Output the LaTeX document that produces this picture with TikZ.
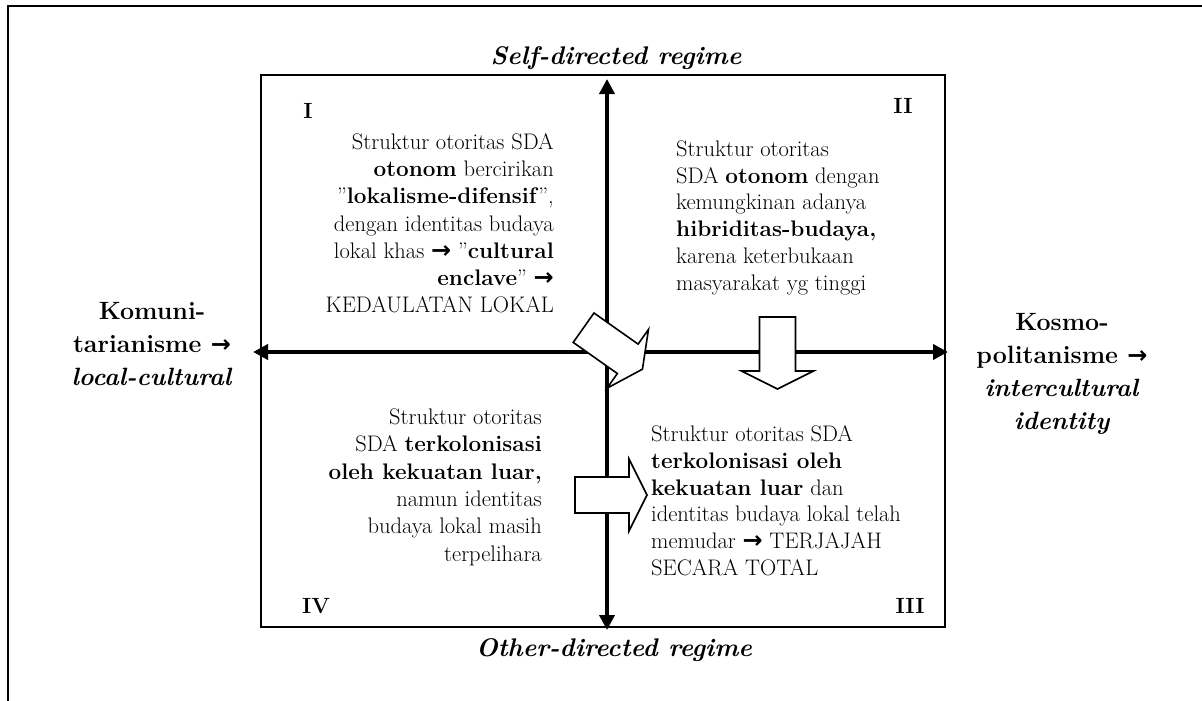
\documentclass[tikz,border=0pt]{standalone}
\usepackage{fontspec}
\newfontfamily\djv{DejaVu Sans}
\usetikzlibrary{arrows.meta}
\newcommand{\rarrow}{{\djv\bfseries\fontsize{24}{24}\selectfont →}}
\tikzset{
  x=1pt, y=-1pt,
  framestyle/.style={line width=2.2pt},
  boxstyle/.style={line width=2pt},
  axisstyle/.style={line width=4.5pt,
    {Triangle[length=15pt,width=15pt]}-{Triangle[length=15pt,width=15pt]}},
  blockarrow/.pic={\draw[line width=1.6pt, fill=white, line join=miter]
    (0,-18) -- (54,-18) -- (54,-36) -- (72,0) -- (54,36) -- (54,18) -- (0,18) -- cycle;},
  qtext/.style={inner sep=0pt, font=\fontsize{22.5}{27.2}\selectfont},
  sidetext/.style={inner sep=0pt, align=center, font=\fontsize{25}{33}\selectfont\bfseries},
  titletext/.style={inner sep=0pt, font=\fontsize{25.5}{28}\selectfont\bfseries\itshape},
  qlabel/.style={inner sep=0pt, font=\fontsize{22}{24}\selectfont\bfseries},
}
\begin{document}
\begin{tikzpicture}
\useasboundingbox (0,0) rectangle (1202,701);
% outer frame (top and left only)
\coordinate (ftl) at (8,6);
\coordinate (ftr) at (1202,6);
\coordinate (fbl) at (8,701);
\draw[framestyle] (fbl) -- (ftl) -- (ftr);
% main box
\coordinate (btl) at (261,75);
\coordinate (bbr) at (945,627);
\draw[boxstyle] (btl) rectangle (bbr);
% axes
\coordinate (axL) at (253,352);
\coordinate (axR) at (948,352);
\coordinate (axT) at (607,79);
\coordinate (axB) at (607,630);
\draw[axisstyle] (axL) -- (axR);
\draw[axisstyle] (axB) -- (axT);
% block arrows
\pic[rotate=-35.2] at (583.6,327.7) {blockarrow};
\pic[rotate=-90] at (777.5,317) {blockarrow};
\pic at (575,495) {blockarrow};
% titles
\node[titletext, anchor=base] (top) at (616,64) {Self-directed regime};
\node[titletext, anchor=base] (bottom) at (614,656) {Other-directed regime};
% side labels
\node[sidetext, anchor=north] (left) at (152,302) {Komuni-\\tarianisme \rarrow\\\textit{local-cultural}};
\node[sidetext, anchor=north] (right) at (1062,313) {Kosmo-\\politanisme \rarrow\\\textit{intercultural}\\\textit{identity}};
% quadrant labels
\node[qlabel, anchor=base] (l1) at (308,118) {I};
\node[qlabel, anchor=base] (l2) at (903,113) {II};
\node[qlabel, anchor=base] (l3) at (910,613) {III};
\node[qlabel, anchor=base] (l4) at (316,613) {IV};
% quadrant texts
\node[qtext, align=right, anchor=north east] (q1) at (554,133.4) {Struktur otoritas SDA\\
\textbf{otonom} bercirikan\\
”\textbf{lokalisme-difensif}”,\\
dengan identitas budaya\\
lokal khas \rarrow{} ”\textbf{cultural}\\
\textbf{enclave}” \rarrow\\
KEDAULATAN LOKAL};
\node[qtext, font=\fontsize{22.5}{26.8}\selectfont, align=left, anchor=north west] (q2) at (676,140.4) {Struktur otoritas\\
SDA \textbf{otonom} dengan\\
kemungkinan adanya\\
\textbf{hibriditas-budaya,}\\
karena keterbukaan\\
masyarakat yg tinggi};
\node[qtext, font=\fontsize{22.5}{27.4}\selectfont, align=right, anchor=north east] (q4) at (542,408.4) {Struktur otoritas\\
SDA \textbf{terkolonisasi}\\
\textbf{oleh kekuatan luar,}\\
namun identitas\\
budaya lokal masih\\
terpelihara};
\node[qtext, font=\fontsize{22.5}{26.8}\selectfont, align=left, anchor=north west] (q3) at (651,425.4) {Struktur otoritas SDA\\
\textbf{terkolonisasi oleh}\\
\textbf{kekuatan luar} dan\\
identitas budaya lokal telah\\
memudar \rarrow{} TERJAJAH\\
SECARA TOTAL};
\end{tikzpicture}
\end{document}
